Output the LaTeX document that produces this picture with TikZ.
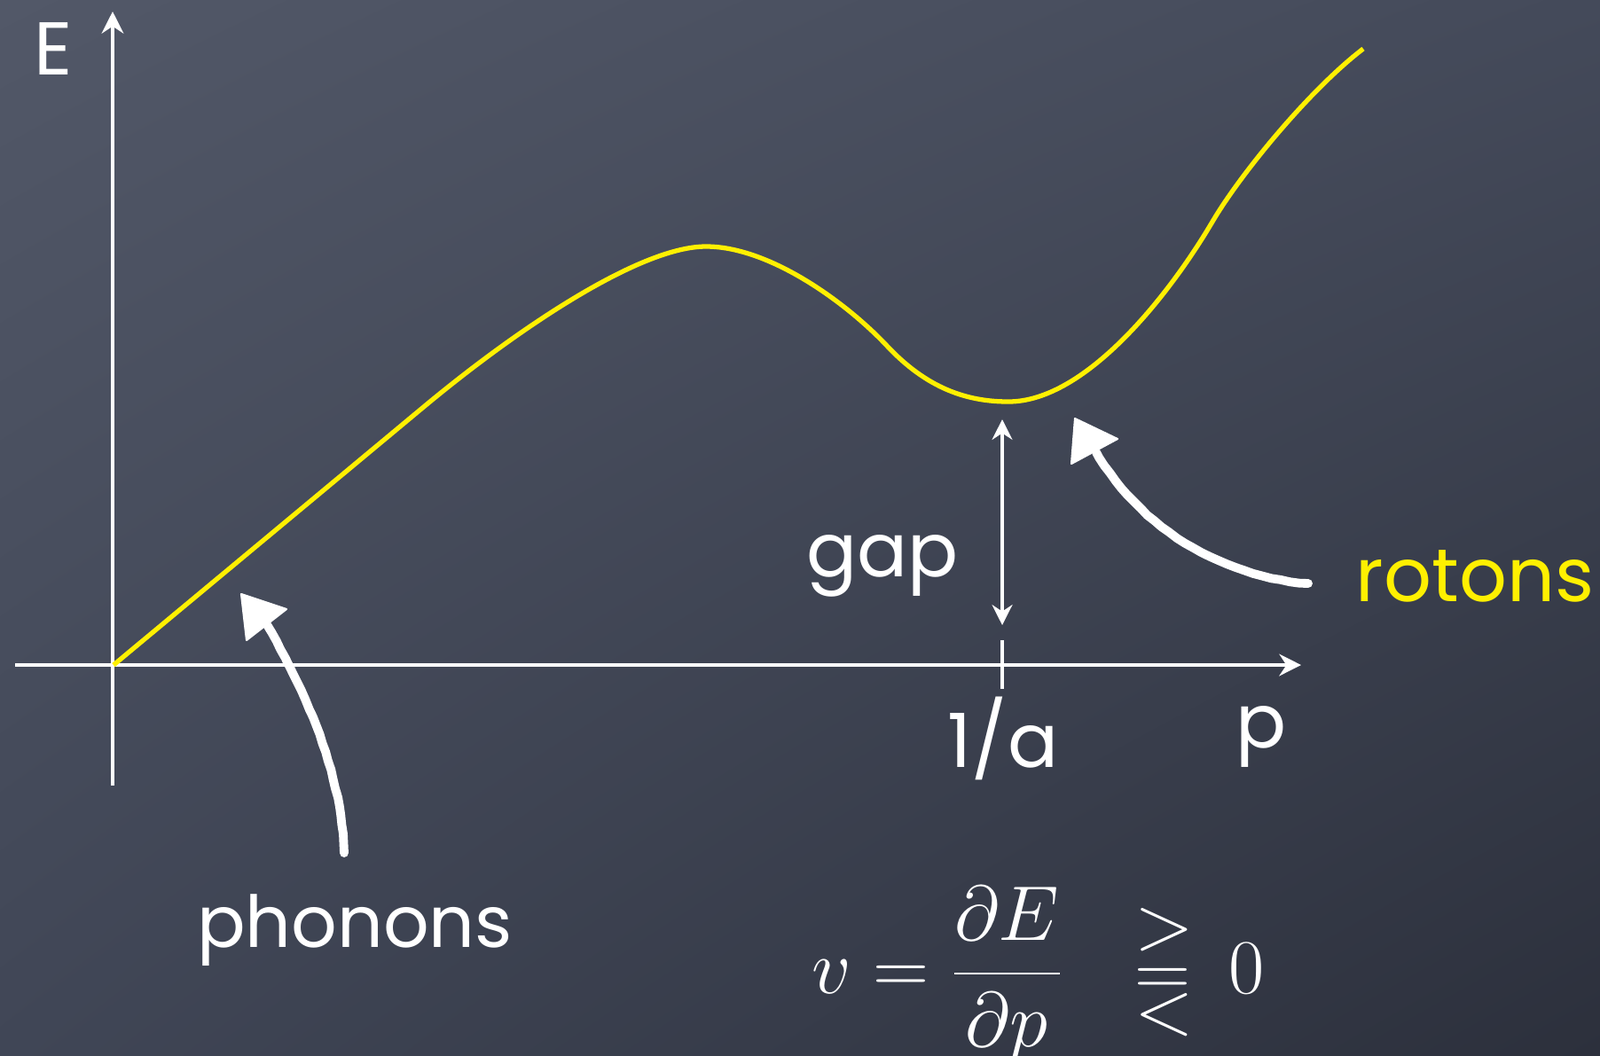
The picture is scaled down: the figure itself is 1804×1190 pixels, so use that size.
\documentclass[tikz,border=0pt]{standalone}
\usepackage[no-math]{fontspec}
\setmainfont{Poppins}
\usetikzlibrary{arrows.meta,decorations.pathmorphing,shadings}
\definecolor{chalkyellow}{RGB}{255,240,0}
\definecolor{boardUL}{RGB}{82,88,104}
\definecolor{boardUR}{RGB}{68,74,90}
\definecolor{boardLL}{RGB}{64,70,86}
\definecolor{boardLR}{RGB}{44,48,60}
\newcommand{\gleqstack}{\vbox{\offinterlineskip\hbox{$>$}\kern5.4pt\hbox{$=$}\kern-0.9pt\hbox{$<$}}}
\begin{document}
\begin{tikzpicture}[x=0.01cm,y=-0.01cm,
  axisline/.style={draw=white,line width=1.4pt},
  curveline/.style={draw=chalkyellow,line width=1.5pt,line join=round},
  gapline/.style={draw=white,line width=1.1pt},
  chalk/.style={draw=white,line width=2.8pt,line cap=round,
    decorate,decoration={random steps,segment length=3pt,amplitude=0.15pt}},
  chalkhead/.style={fill=white,draw=white,line width=0.6pt,line join=round},
  lbl/.style={font=\fontsize{24}{28}\selectfont,text=white,inner sep=0pt,anchor=base},
  mth/.style={font=\fontsize{25}{30}\selectfont,text=white,inner sep=0pt,anchor=base}]
\useasboundingbox (0,0) rectangle (1804,1190);
\shade[upper left=boardUL,upper right=boardUR,lower left=boardLL,lower right=boardLR]
  (0,0) rectangle (1804,1190);

% axes
\coordinate (xL) at (17,750);
\coordinate (xR) at (1467,750);
\coordinate (yB) at (127,886);
\coordinate (yT) at (127,13);
\draw[axisline,-{Stealth[length=7pt,width=7pt]}] (xL) -- (xR);
\draw[axisline,-{Stealth[length=7pt,width=7pt]}] (yB) -- (yT);

% tick at 1/a
\coordinate (tickT) at (1130,722);
\coordinate (tickB) at (1130,777);
\draw[axisline,line width=1.2pt] (tickT) -- (tickB);

% dispersion curve
\coordinate (c0) at (128,750);
\coordinate (c1) at (480,457);
\coordinate (cpeak) at (796,278);
\coordinate (c3) at (1000,390);
\coordinate (cmin) at (1137,453);
\coordinate (c5) at (1367,250);
\coordinate (cend) at (1537,55);
\draw[curveline] (c0) -- (c1)
  .. controls (580,374) and (720,278) .. (cpeak)
  .. controls (868,278) and (955,342) .. (c3)
  .. controls (1045,438) and (1090,453) .. (cmin)
  .. controls (1225,453) and (1320,330) .. (c5)
  .. controls (1400,194) and (1478,100) .. (cend);

% gap arrow
\coordinate (gapT) at (1130,473);
\coordinate (gapB) at (1130,705);
\draw[gapline,{Stealth[length=6.5pt,width=6.5pt]}-{Stealth[length=6.5pt,width=6.5pt]}] (gapT) -- (gapB);

% labels
\node[lbl] (E) at (60,84) {E};
\node[lbl] (P) at (1422,843) {p};
\node[lbl] (inva) at (1131,865) {1/a};
\node[lbl] (gap) at (995,650) {gap};
\node[lbl,text=chalkyellow] (rotons) at (1663,678) {rotons};
\node[lbl,font=\fontsize{23}{28}\selectfont] (phonons) at (400,1068) {phonons};

% chalk arrows
\coordinate (phtail) at (388,962);
\coordinate (phbase) at (300,703);
\draw[chalk] (phtail) .. controls (385,870) and (345,780) .. (phbase);
\fill[chalkhead] (272,670) -- (323,687) -- (278,722) -- cycle;

\coordinate (rotail) at (1475,658);
\coordinate (robase) at (1236,510);
\draw[chalk] (rotail) .. controls (1380,650) and (1290,600) .. (robase);
\fill[chalkhead] (1212,472) -- (1260,495) -- (1208,523) -- cycle;

% formula
\node[mth,anchor=base west] (formula) at (915,1120) {$\displaystyle v=\frac{\partial E}{\partial p}$};
\node[mth,anchor=north] (stack) at (1313,1024) {\gleqstack};
\node[mth] (zero) at (1406,1120) {$0$};
\end{tikzpicture}
\end{document}
